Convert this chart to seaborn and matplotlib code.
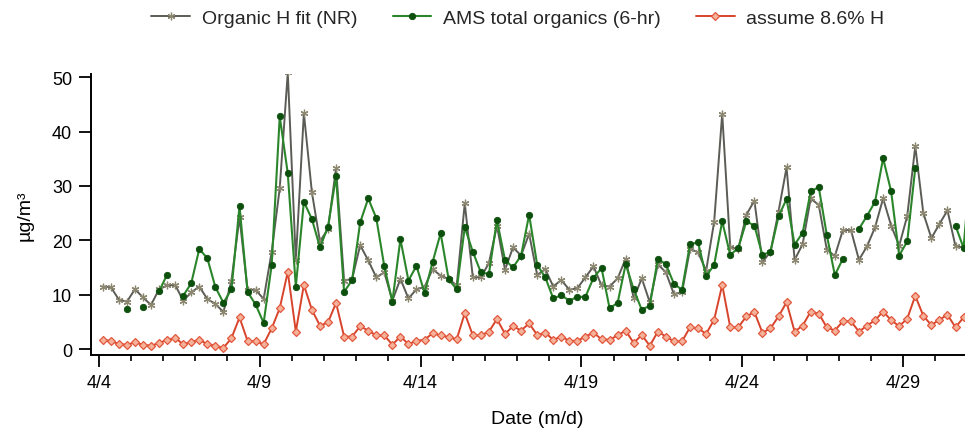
import numpy as np
import pandas as pd
import matplotlib
matplotlib.use("Agg")
import matplotlib.pyplot as plt
import matplotlib.dates as mdates
from matplotlib.lines import Line2D
import seaborn as sns

# 6-hourly time series, first sample 4/4 03:00
start = "2008-04-04 03:00"

h_fit = [
    11.5, 11.4, 9.1, 8.7, 11.0, 9.5, 8.1, 11.0, 11.7, 11.8,
    8.9, 10.4, 11.5, 9.2, 8.3, 6.8, 12.6, 24.2, 10.9, 10.9,
    9.2, 17.9, 29.6, 50.9, 16.3, 43.4, 28.8, 19.8, 22.1, 33.3,
    12.6, 12.9, 19.1, 16.3, 13.2, 14.1, 8.9, 12.9, 9.3, 11.0,
    11.4, 14.7, 13.5, 12.9, 11.7, 26.8, 13.2, 13.2, 15.8, 22.7,
    14.6, 18.7, 17.2, 21.2, 13.6, 14.7, 11.5, 12.7, 10.9, 11.2,
    13.2, 15.2, 11.7, 11.5, 13.0, 16.6, 9.3, 13.0, 8.6, 15.6,
    14.1, 10.1, 10.4, 18.4, 17.8, 14.4, 23.4, 43.3, 18.7, 18.4,
    24.7, 27.3, 16.0, 17.9, 25.3, 33.4, 16.4, 19.3, 27.7, 26.5,
    18.3, 17.1, 21.9, 21.9, 16.4, 18.9, 22.4, 27.7, 22.7, 19.0,
    24.5, 37.3, 25.0, 20.4, 23.0, 25.5, 18.9, 18.7, 20.0,
]

ams_org = [
    np.nan, np.nan, np.nan, 7.4, np.nan, 7.8, np.nan, 10.6, 13.7, np.nan,
    9.8, 12.1, 18.4, 16.7, 11.4, 8.5, 11.0, 26.3, 10.5, 8.2,
    4.8, 15.5, 42.8, 32.3, 11.5, 27.1, 23.9, 18.7, 22.5, 31.8,
    10.5, 12.7, 23.3, 27.7, 24.1, 15.2, 8.7, 20.2, 12.6, 15.3,
    10.3, 16.0, 21.3, 12.8, 11.0, 22.4, 17.9, 14.1, 13.8, 23.7,
    16.4, 15.0, 17.2, 24.7, 15.5, 13.2, 9.3, 9.9, 8.9, 9.6,
    9.6, 13.1, 14.9, 7.5, 8.5, 15.6, 11.0, 7.2, 8.0, 16.6,
    15.6, 12.0, 10.9, 19.3, 19.6, 13.4, 15.5, 23.5, 17.3, 18.6,
    23.5, 22.7, 17.3, 17.9, 24.4, 27.6, 19.2, 21.4, 29.0, 29.8,
    21.0, 13.6, 16.6, np.nan, 22.1, 24.5, 27.1, 35.1, 29.0, 17.2,
    19.8, 33.3, np.nan, np.nan, np.nan, np.nan, 22.7, 18.6, 36.0,
]

h_86 = [
    1.7, 1.5, 0.9, 0.8, 1.2, 0.8, 0.6, 1.1, 1.7, 2.0,
    0.9, 1.3, 1.7, 0.9, 0.6, 0.2, 2.0, 5.8, 1.5, 1.4,
    0.9, 3.8, 7.5, 14.2, 3.2, 11.8, 7.2, 4.3, 4.9, 8.5,
    2.3, 2.3, 4.2, 3.4, 2.5, 2.5, 0.8, 2.3, 0.9, 1.5,
    1.7, 2.9, 2.5, 2.2, 1.8, 6.6, 2.5, 2.5, 3.2, 5.5,
    2.8, 4.2, 3.4, 4.7, 2.6, 3.0, 1.7, 2.3, 1.5, 1.5,
    2.3, 3.0, 1.8, 1.7, 2.5, 3.4, 1.1, 2.6, 0.6, 3.2,
    2.3, 1.4, 1.4, 4.0, 3.8, 2.8, 5.4, 11.8, 4.0, 4.0,
    6.0, 6.8, 3.0, 3.8, 6.0, 8.6, 3.2, 4.3, 6.9, 6.5,
    4.0, 3.4, 5.1, 5.1, 3.2, 4.3, 5.3, 6.9, 5.3, 4.2,
    5.6, 9.8, 6.1, 4.4, 5.4, 6.3, 4.0, 5.8, 6.2,
]

series_labels = ["Organic H fit (NR)", "AMS total organics (6-hr)", "assume 8.6% H"]
tick_labels = ["4/4", "4/9", "4/14", "4/19", "4/24", "4/29"]
y_ticks = [0, 10, 20, 30, 40, 50]

times = pd.date_range(start, periods=len(h_fit), freq="6h")


def runs(values):
    """Long table of the non-missing samples, one 'seg' id per unbroken run."""
    s = pd.Series(values, dtype=float)
    seg = s.isna().cumsum()
    df = pd.DataFrame({"time": times, "value": s.values, "seg": seg.values})
    return df.dropna()


sns.set_theme(style="ticks")
plt.rcParams["font.family"] = ["Liberation Sans", "DejaVu Sans"]

fig = plt.figure(figsize=(9.65, 4.35), dpi=100)
W, H = 965, 435
ax = fig.add_axes([91 / W, 79 / H, 1 - 91 / W, 281 / H])

styles = [
    dict(color="#5c5c56", lw=1.4, marker=(6, 2, 0), markersize=5.5,
         markeredgecolor="#8c8770", markerfacecolor="none", markeredgewidth=0.9),
    dict(color="#2b852b", lw=1.5, marker="o", markersize=4.6,
         markeredgecolor="#0d4f0d", markerfacecolor="#0d4f0d", markeredgewidth=0.6),
    dict(color="#d8432c", lw=1.4, marker="D", markersize=4.0,
         markeredgecolor="#e2583d", markerfacecolor="#f5b29a", markeredgewidth=0.9),
]

for vals, st in zip([h_fit, ams_org, h_86], styles):
    sns.lineplot(data=runs(vals), x="time", y="value", units="seg",
                 estimator=None, sort=False, ax=ax, legend=False, **st)

handles = [Line2D([], [], **st) for st in styles]
fig.legend(handles, series_labels, loc="center", ncol=3, frameon=False,
           bbox_to_anchor=(518 / W, 1 - 19 / H), fontsize=14,
           handlelength=2.0, handletextpad=0.6, columnspacing=1.8)

# axes limits and ticks
day0 = pd.Timestamp("2008-04-04")
ax.set_xlim(day0 - pd.Timedelta(days=0.24), day0 + pd.Timedelta(days=26.92))
ax.set_ylim(-1.1, 50.6)

tick_dates = [pd.Timestamp("2008/" + t) for t in tick_labels]
ax.set_xticks(tick_dates)
ax.set_xticklabels(tick_labels)
ax.xaxis.set_minor_locator(mdates.DayLocator())
ax.set_yticks(y_ticks)
ax.set_yticklabels([str(v) for v in y_ticks])

ax.tick_params(axis="both", which="major", direction="out", length=8.6,
               width=1.3, labelsize=13, color="black", labelcolor="black")
ax.tick_params(axis="x", which="major", pad=5)
ax.tick_params(axis="y", which="major", pad=5)
ax.tick_params(axis="x", which="minor", direction="out", length=4.3,
               width=1.2, color="black")

sns.despine(ax=ax, top=True, right=True)
for side in ("left", "bottom"):
    ax.spines[side].set_linewidth(1.4)
    ax.spines[side].set_color("black")

ax.set_xlabel("Date (m/d)", fontsize=14, color="black")
ax.xaxis.set_label_coords((537 - 91) / (W - 91), -(411 - 356) / 281)
ax.set_ylabel("µg/m³", fontsize=14, color="black")
ax.yaxis.set_label_coords(-(91 - 34) / (W - 91), 0.5)

fig.savefig("out.png", dpi=100)
